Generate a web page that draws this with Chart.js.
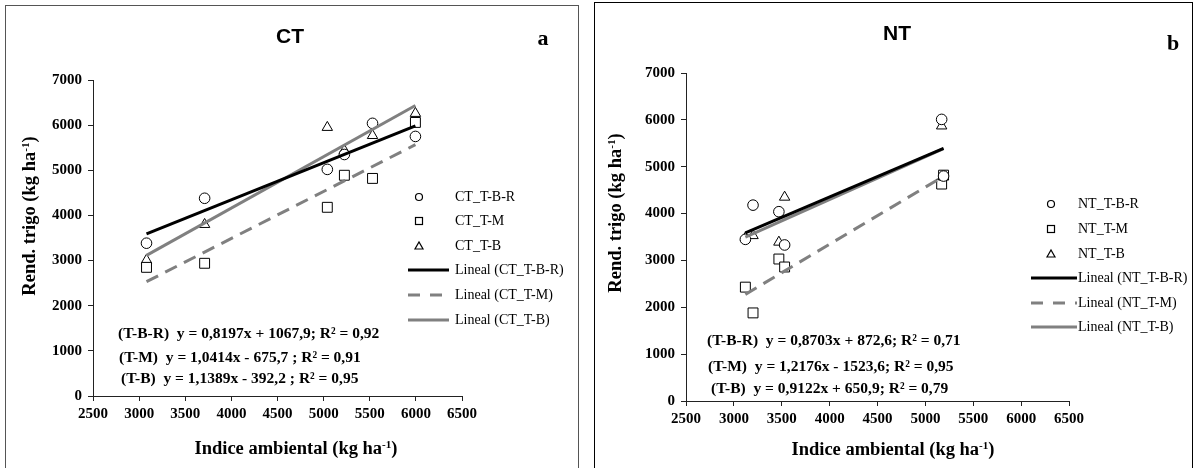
<!DOCTYPE html>
<html>
<head>
<meta charset="utf-8">
<script src="https://cdn.jsdelivr.net/npm/chart.js@4/dist/chart.umd.min.js"></script>
<style>
  body { margin: 0; width: 1195px; height: 468px; background: #fff; position: relative; overflow: hidden;
         font-family: "Liberation Serif", "Times New Roman", serif; color: #000; }
  .box { position: absolute; box-sizing: border-box; background: #fff; }
  canvas { position: absolute; top: 0; }
  .t { position: absolute; white-space: pre; line-height: 1; }
  .c { transform: translate(-50%, -50%); }
  .l { transform: translateY(-50%); }
  .rot { transform: translate(-50%, -50%) rotate(-90deg); }
  sup { font-size: 0.6em; line-height: 0; vertical-align: 0.55em; }
  .panel-title { font-family: "Liberation Sans", Arial, sans-serif; font-weight: bold; font-size: 21px; }
  .letter { font-weight: bold; font-size: 22px; }
  .axis-title { font-weight: bold; font-size: 18.5px; }
  .eq { font-weight: bold; font-size: 15.5px; }
  .leg { font-size: 14px; }
  svg { position: absolute; overflow: visible; }
</style>
</head>
<body>
<div class="box" style="left:5px;top:5px;width:574px;height:470px;border:1px solid #555;"></div>
<div class="box" style="left:594px;top:2px;width:599px;height:470px;border:1px solid #000;"></div>
<canvas id="ctChart" width="590" height="468" style="left:0;"></canvas>
<canvas id="ntChart" width="605" height="468" style="left:590px;"></canvas>
<div id="labels"></div>
<script>
// axis ranges
const xMin = 2500, xMax = 6500, xStep = 500;
const yMin = 0, yMax = 7000, yStep = 1000;

// CT: environment index and yields per treatment
const ctEnv = [3080, 3710, 5040, 5225, 5530, 5995];
const ctTBR = [3385, 4380, 5020, 5350, 6040, 5750];
const ctTM  = [2850, 2940, 4180, 4890, 4820, 6060];
const ctTB  = [3010, 3800, 5950, 5440, 5770, 6260];
const ctSlope = [0.8197, 1.0414, 1.1389];
const ctIntercept = [1067.9, -675.7, -392.2];
const ctR2 = ["0,92", "0,91", "0,95"];
const ctSep = ["; ", " ; ", " ; "];

// NT
const ntEnv = [3120, 3200, 3470, 3530, 5170, 5190];
const ntTBR = [3450, 4180, 4040, 3330, 6010, 4800];
const ntTM  = [2430, 1880, 3030, 2860, 4630, 4820];
const ntTB  = [3480, 3530, 3390, 4350, 5870, 4800];
const ntSlope = [0.8703, 1.2176, 0.9122];
const ntIntercept = [872.6, -1523.6, 650.9];
const ntR2 = ["0,71", "0,95", "0,79"];
const ntSep = ["; ", "; ", "; "];

const treatTags = ["T-B-R", "T-M", "T-B"];
const pointStyles = ["circle", "rect", "triangle"];
const pointSizes = [5.3, 7, 6];
const lineColors = ["#000000", "#808080", "#808080"];
const lineDash = [[], [13, 8], []];

Chart.defaults.font.family = '"Liberation Serif", "Times New Roman", serif';
Chart.defaults.color = "#000";

function trendPoints(env, a, b) {
  const lo = Math.min(...env), hi = Math.max(...env);
  return [{ x: lo, y: a * lo + b }, { x: hi, y: a * hi + b }];
}

function buildChart(id, prefix, env, series, slope, intercept, geo) {
  const datasets = [];
  series.forEach((vals, i) => {
    datasets.push({
      type: "line",
      label: "Lineal (" + prefix + treatTags[i] + ")",
      data: trendPoints(env, slope[i], intercept[i]),
      borderColor: lineColors[i],
      borderWidth: 3,
      borderDash: lineDash[i],
      pointRadius: 0,
      fill: false,
      order: 0,
    });
  });
  series.forEach((vals, i) => {
    datasets.push({
      type: "scatter",
      label: prefix + treatTags[i],
      data: env.map((x, k) => ({ x: x, y: vals[k] })),
      pointStyle: pointStyles[i],
      pointRadius: pointSizes[i],
      pointBackgroundColor: "#fff",
      pointBorderColor: "#000",
      pointBorderWidth: 1,
      order: 1,
    });
  });

  const tickFont = { size: 15, weight: "bold" };
  return new Chart(document.getElementById(id), {
    type: "scatter",
    data: { datasets },
    options: {
      responsive: false,
      animation: false,
      layout: { padding: geo.padding },
      plugins: { legend: { display: false }, tooltip: { enabled: false } },
      scales: {
        x: {
          type: "linear", min: xMin, max: xMax,
          ticks: { stepSize: xStep, font: tickFont, padding: 4, color: "#000", callback: (v) => String(v) },
          grid: { drawOnChartArea: false, drawTicks: true, tickLength: 5, color: "#222" },
          border: { display: true, color: "#222", width: 1 },
          afterFit: (s) => { s.height = 30; },
        },
        y: {
          type: "linear", min: yMin, max: yMax,
          ticks: { stepSize: yStep, font: tickFont, padding: 6, color: "#000", callback: (v) => String(v) },
          grid: { drawOnChartArea: false, drawTicks: true, tickLength: 5, color: "#222" },
          border: { display: true, color: "#222", width: 1 },
          afterFit: (s) => { s.width = geo.yWidth; },
        },
      },
    },
  });
}

buildChart("ctChart", "CT_", ctEnv, [ctTBR, ctTM, ctTB], ctSlope, ctIntercept,
  { padding: { left: 0, top: 80, right: 128, bottom: 42 }, yWidth: 93 });
buildChart("ntChart", "NT_", ntEnv, [ntTBR, ntTM, ntTB], ntSlope, ntIntercept,
  { padding: { left: 0, top: 73, right: 126, bottom: 37 }, yWidth: 96 });

// text, equations and legends
const host = document.getElementById("labels");
function addText(html, cls, x, y) {
  const d = document.createElement("div");
  d.className = "t " + cls;
  d.style.left = x + "px";
  d.style.top = y + "px";
  d.innerHTML = html;
  host.appendChild(d);
}
const fmt = (v, n) => v.toFixed(n).replace(".", ",");
function equation(i, slope, intercept, r2, sep) {
  const b = intercept[i];
  return "(" + treatTags[i] + ")  y = " + fmt(slope[i], 4) + "x " + (b < 0 ? "- " : "+ ") +
    fmt(Math.abs(b), 1) + sep[i] + "R² = " + r2[i];
}

const yTitle = "Rend. trigo (kg ha<sup>-1</sup>)";
const xTitle = "Indice ambiental (kg ha<sup>-1</sup>)";

addText("CT", "c panel-title", 290, 35);
addText("a", "c letter", 543, 38);
addText(yTitle, "rot axis-title", 29, 216);
addText(xTitle, "c axis-title", 296, 448);
[[118, 333], [119, 357], [121, 378]].forEach((p, i) =>
  addText(equation(i, ctSlope, ctIntercept, ctR2, ctSep), "l eq", p[0], p[1]));

addText("NT", "c panel-title", 897, 32);
addText("b", "c letter", 1173, 43);
addText(yTitle, "rot axis-title", 615, 213);
addText(xTitle, "c axis-title", 893, 449);
[[707, 340], [708, 366], [711, 388]].forEach((p, i) =>
  addText(equation(i, ntSlope, ntIntercept, ntR2, ntSep), "l eq", p[0], p[1]));

const NS = "http://www.w3.org/2000/svg";
function svgEl(tag, attrs) {
  const e = document.createElementNS(NS, tag);
  for (const k in attrs) e.setAttribute(k, attrs[k]);
  return e;
}
function legend(prefix, markX, lineX0, lineX1, textX, rows) {
  const svg = svgEl("svg", { width: 1195, height: 468 });
  svg.style.left = "0px"; svg.style.top = "0px";
  treatTags.forEach((tag, i) => {
    const y = rows[i];
    let m;
    if (i === 0) m = svgEl("circle", { cx: markX, cy: y, r: 3.5 });
    else if (i === 1) m = svgEl("rect", { x: markX - 3.5, y: y - 3.5, width: 7, height: 7 });
    else m = svgEl("polygon", { points: `${markX - 4},${y + 3} ${markX + 4},${y + 3} ${markX},${y - 4}` });
    m.setAttribute("fill", "#fff"); m.setAttribute("stroke", "#000"); m.setAttribute("stroke-width", "1.2");
    svg.appendChild(m);
    addText(prefix + tag, "l leg", textX, y);
  });
  treatTags.forEach((tag, i) => {
    const y = rows[i + 3];
    const ln = svgEl("line", { x1: lineX0, y1: y, x2: lineX1, y2: y, stroke: lineColors[i], "stroke-width": 3 });
    if (lineDash[i].length) ln.setAttribute("stroke-dasharray", "12 10");
    svg.appendChild(ln);
    addText("Lineal (" + prefix + tag + ")", "l leg", textX, y);
  });
  document.body.insertBefore(svg, host);
}
legend("CT_", 419, 408, 449, 455, [197, 221, 246, 270, 295, 320]);
legend("NT_", 1051, 1031, 1077, 1078, [204, 229, 254, 278, 303, 327]);
</script>
</body>
</html>
